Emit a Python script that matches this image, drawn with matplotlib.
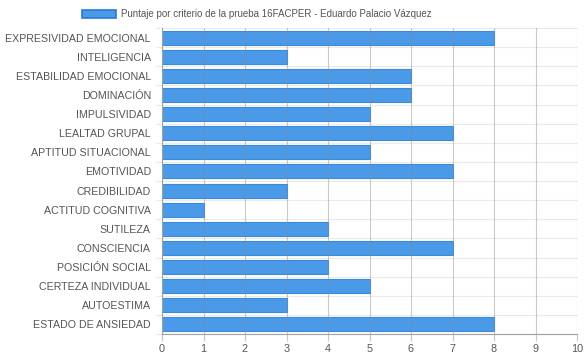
import matplotlib
matplotlib.use("Agg")
import matplotlib.pyplot as plt
from matplotlib.patches import Patch

criterios = ["EXPRESIVIDAD EMOCIONAL", "INTELIGENCIA", "ESTABILIDAD EMOCIONAL",
             "DOMINACIÓN", "IMPULSIVIDAD", "LEALTAD GRUPAL", "APTITUD SITUACIONAL",
             "EMOTIVIDAD", "CREDIBILIDAD", "ACTITUD COGNITIVA", "SUTILEZA",
             "CONSCIENCIA", "POSICIÓN SOCIAL", "CERTEZA INDIVIDUAL", "AUTOESTIMA",
             "ESTADO DE ANSIEDAD"]
puntajes = [8, 3, 6, 6, 5, 7, 5, 7, 3, 1, 4, 7, 4, 5, 3, 8]
x_ticks = list(range(0, 11))
leyenda = "Puntaje por criterio de la prueba 16FACPER - Eduardo Palacio Vázquez"

plt.rcParams['font.family'] = ['Liberation Sans', 'DejaVu Sans']

fig = plt.figure(figsize=(5.84, 3.59), dpi=100)
ax = fig.add_axes([162/584, 1 - 334/359, (577 - 162)/584, (334 - 28)/359])

pos = list(range(len(criterios)))
ax.barh(pos, puntajes, height=0.73, color="#4a9ae8", edgecolor="#3a8be0",
        linewidth=0.8, zorder=2)

ax.set_xlim(0, 10)
ax.set_ylim(len(criterios) - 0.5, -0.5)
ax.set_xticks(x_ticks)
ax.set_yticks(pos)
ax.set_yticklabels(criterios)
ax.tick_params(axis="y", length=0, pad=8, labelsize=7.7, labelcolor="#555555")
ax.tick_params(axis="x", length=5, color="#c8c8c8", labelsize=7.8,
               labelcolor="#555555", pad=2)

# horizontal light lines between categories
for b in range(len(criterios) + 1):
    ax.axhline(b - 0.5, color="#ebebeb", linewidth=0.8, zorder=1, clip_on=False,
               xmin=-0.015, xmax=1)
# vertical gridlines above bars
for t in x_ticks[1:]:
    ax.axvline(t, color="#8a8a8a", alpha=0.45, linewidth=0.8, zorder=3)

for s in ["top", "right"]:
    ax.spines[s].set_visible(False)
ax.spines["left"].set_color("#a0a0a0")
ax.spines["bottom"].set_color("#a0a0a0")
ax.spines["left"].set_zorder(4)

fig.legend(handles=[Patch(facecolor="#4a9ae8", edgecolor="#2a7ad8", linewidth=1.2)],
           labels=[leyenda], loc="center", bbox_to_anchor=(257/584, 1 - 14/359),
           frameon=False, fontsize=7.0, handlelength=3.5, handleheight=0.9,
           handletextpad=0.5, labelcolor="#555555")

fig.savefig("out.png", dpi=100)
